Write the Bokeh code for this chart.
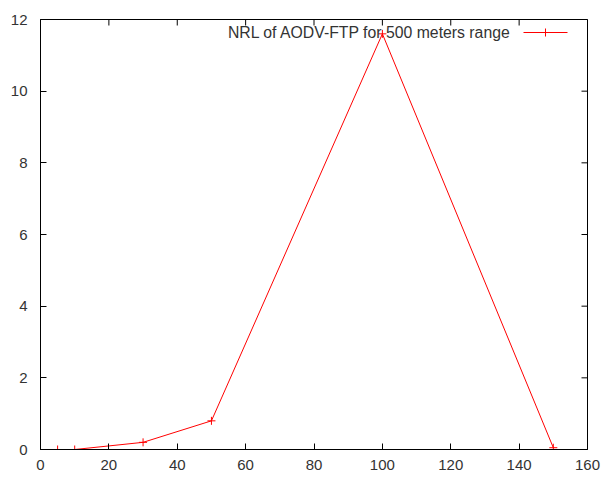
import math
from bokeh.plotting import figure
from bokeh.models import Range1d, FixedTicker, LinearAxis, Label, Arrow
from bokeh.embed import file_html
from bokeh.resources import INLINE

# Data
x_vals = [5, 10, 30, 50, 100, 150]
nrl_vals = [0.0, 0.0, 0.2, 0.8, 11.6, 0.05]
x_ticks = [0, 20, 40, 60, 80, 100, 120, 140, 160]
y_ticks = [0, 2, 4, 6, 8, 10, 12]
series_label = "NRL of AODV-FTP for 500 meters range"

FONT = "Liberation Sans"
TXT = "#333333"
X_MIN, X_MAX = x_ticks[0], x_ticks[-1]
Y_MIN, Y_MAX = y_ticks[0], y_ticks[-1]

p = figure(width=602, height=479, output_backend="svg", toolbar_location=None,
           x_range=Range1d(X_MIN, X_MAX), y_range=Range1d(Y_MIN, Y_MAX),
           min_border_left=40, min_border_right=15, min_border_top=19, min_border_bottom=30,
           x_axis_location=None, y_axis_location=None)
p.xgrid.visible = False
p.ygrid.visible = False
p.outline_line_color = "#000000"
p.outline_line_width = 1
p.background_fill_color = "white"
p.border_fill_color = "white"

def style_axis(ax, ticks, standoff):
    ax.ticker = FixedTicker(ticks=ticks)
    ax.minor_tick_line_color = None
    ax.major_tick_in = 6
    ax.major_tick_out = 0
    ax.major_tick_line_color = "#000000"
    ax.axis_line_color = "#000000"
    ax.major_label_text_font = FONT
    ax.major_label_text_font_size = "15px"
    ax.major_label_text_color = TXT
    ax.major_label_standoff = standoff

xb = LinearAxis(); style_axis(xb, x_ticks, 10); p.add_layout(xb, "below")
yl = LinearAxis(); style_axis(yl, y_ticks, 13); p.add_layout(yl, "left")

# mirrored inward ticks on the top and right edges (half of each dash is clipped by the frame)
p.scatter(x_ticks, [Y_MAX] * len(x_ticks), marker="dash", angle=math.pi / 2, size=12,
          line_color="#000000", line_width=1)
p.scatter([X_MAX] * len(y_ticks), y_ticks, marker="dash", size=12,
          line_color="#000000", line_width=1)

p.line(x_vals, nrl_vals, line_color="red", line_width=1)
p.scatter(x_vals, nrl_vals, marker="cross", size=8, line_color="red", line_width=1)

# gnuplot-style key (label then sample) in the top right
p.add_layout(Label(x=471, y=417, x_units="screen", y_units="screen", text=series_label,
                   text_align="right", text_baseline="middle", text_font=FONT,
                   text_font_size="15.8px", text_color=TXT))
p.add_layout(Arrow(x_start=483, y_start=417, x_end=527, y_end=417,
                   start_units="screen", end_units="screen", end=None,
                   line_color="red", line_width=1))
p.add_layout(Arrow(x_start=505, y_start=413, x_end=505, y_end=421,
                   start_units="screen", end_units="screen", end=None,
                   line_color="red", line_width=1))

open("out.html", "w").write(file_html(p, INLINE))
